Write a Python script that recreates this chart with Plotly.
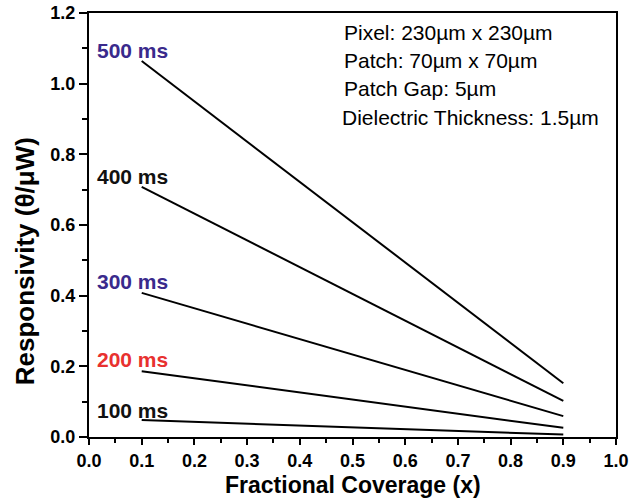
import plotly.graph_objects as go

x_vals = [0.1, 0.9]
series_names = ["500 ms", "400 ms", "300 ms", "200 ms", "100 ms"]
series_values = [
    [1.064, 0.152],
    [0.708, 0.102],
    [0.408, 0.059],
    [0.186, 0.026],
    [0.048, 0.007],
]
label_colors = ["#3a2a8c", "#111111", "#3a2a8c", "#e8312f", "#111111"]
label_y = [1.095, 0.736, 0.439, 0.218, 0.074]
info_lines = [
    "Pixel: 230µm x 230µm",
    "Patch: 70µm x 70µm",
    "Patch Gap: 5µm",
    "Dielectric Thickness: 1.5µm",
]
info_y = [1.146, 1.066, 0.987, 0.903]

FONT = "Liberation Sans, Arial, sans-serif"

fig = go.Figure()
for name, vals in zip(series_names, series_values):
    fig.add_trace(go.Scatter(x=x_vals, y=vals, mode="lines", name=name,
                             line=dict(color="black", width=2), showlegend=False))

for name, c, yy in zip(series_names, label_colors, label_y):
    fig.add_annotation(x=0.011, y=yy, text="<b>%s</b>" % name, showarrow=False,
                       xanchor="left", yanchor="middle",
                       font=dict(family=FONT, size=21, color=c))

for i, (t, yy) in enumerate(zip(info_lines, info_y)):
    fig.add_annotation(x=0.480 if i < 3 else 0.476, y=yy, text=t, showarrow=False,
                       xanchor="left", yanchor="middle",
                       font=dict(family=FONT, size=21, color="black"))

# axis titles as annotations (positioned like the reference)
fig.add_annotation(xref="paper", yref="paper", x=-0.121, y=0.415,
                   text="<b>Responsivity (θ/μW)</b>", textangle=-90, showarrow=False,
                   xanchor="center", yanchor="middle",
                   font=dict(family=FONT, size=26, color="black"))
fig.add_annotation(xref="paper", yref="paper", x=0.5, y=-0.113,
                   text="<b>Fractional Coverage (x)</b>", showarrow=False,
                   xanchor="center", yanchor="middle", borderpad=0,
                   font=dict(family=FONT, size=23, color="black"))

axis_common = dict(
    showline=True, linecolor="black", linewidth=2, mirror=True,
    ticks="outside", tickcolor="black", tickwidth=2,
    showgrid=False, zeroline=False, automargin=False,
    tickfont=dict(family=FONT, size=18, color="black", weight="bold"),
)
fig.update_xaxes(range=[0, 1.0], dtick=0.1, tickformat=".1f", ticklen=6,
                 minor=dict(ticks="outside", dtick=0.05, ticklen=4, tickcolor="black", tickwidth=1.5),
                 **axis_common)
fig.update_yaxes(range=[0, 1.2], dtick=0.2, tickformat=".1f", ticklen=8,
                 minor=dict(ticks="outside", dtick=0.1, ticklen=5, tickcolor="black", tickwidth=1.5),
                 **axis_common)

fig.update_layout(width=642, height=499, margin=dict(l=89, r=26, t=13, b=62),
                  plot_bgcolor="white", paper_bgcolor="white")
fig.write_html("out.html")
